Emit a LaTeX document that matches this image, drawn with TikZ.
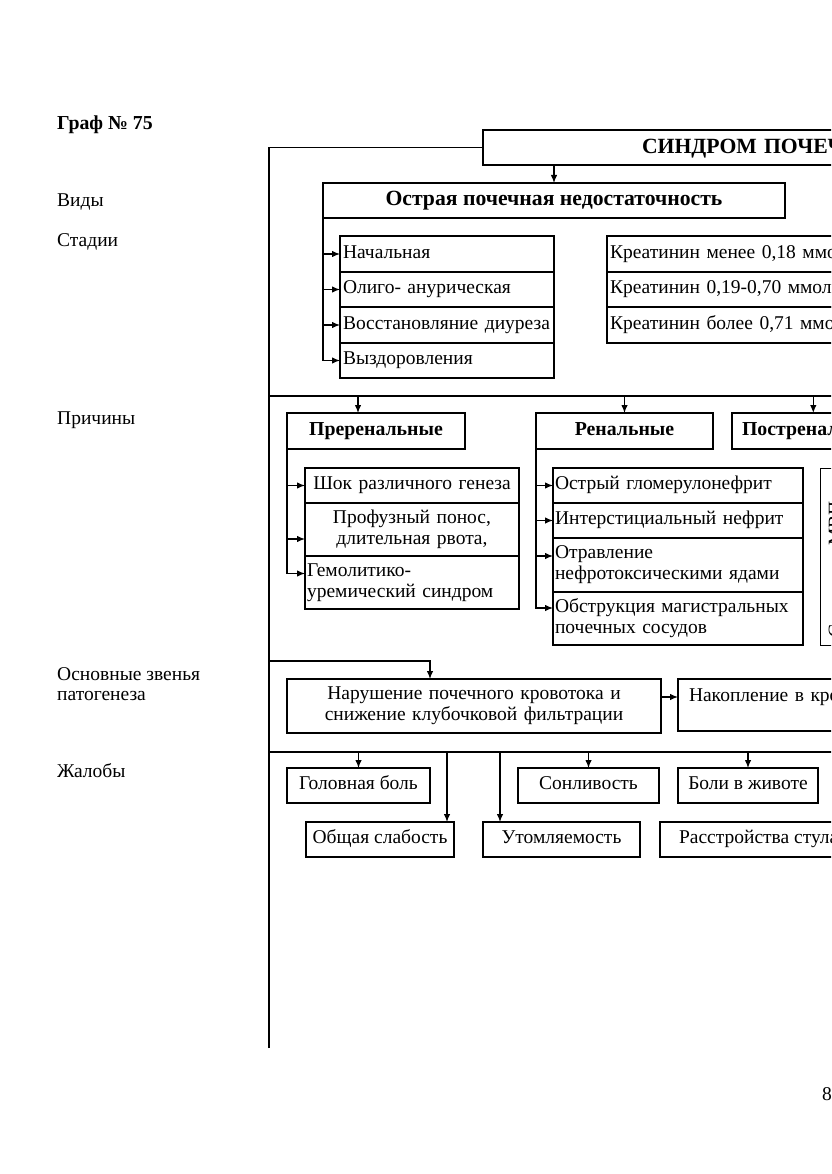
\documentclass[tikz,border=0pt]{standalone}
\usepackage{fontspec}
\setmainfont{Liberation Serif}
\usetikzlibrary{arrows.meta}
\newcommand\fn{\fontsize{19.5}{21}\selectfont}
\newcommand\fbb{\fontsize{19.8}{22}\selectfont\bfseries}
\newcommand\fbig{\fontsize{21.7}{24}\selectfont\bfseries}
\begin{document}
\begin{tikzpicture}[x=1pt,y=-1pt,
  box/.style={draw,line width=1.3pt,inner sep=0pt,outer sep=0pt,font=\fn,
    execute at begin node=\strut,execute at end node=\strut},
  arr/.style={-{Latex[length=8pt,width=6.5pt]},line width=1.2pt},
  ln/.style={line width=1.2pt},
  lab/.style={anchor=base west,inner sep=0pt,font=\fn}]
\useasboundingbox (0,0) rectangle (831,1174);
\clip (0,0) rectangle (831,1174);

% left labels
\node[lab,font=\fbb] (title) at (57,130) {Граф № 75};
\node[lab] (l1) at (57,207) {Виды};
\node[lab] (l2) at (57,247) {Стадии};
\node[lab] (l3) at (57,424) {Причины};
\node[lab] (l4) at (57,680) {Основные звенья};
\node[lab] (l5) at (57,700) {патогенеза};
\node[lab] (l6) at (57,777) {Жалобы};
\node[lab] (pg) at (822,1100) {8};

% top
\node[box,anchor=north west,minimum width=700,minimum height=35,text width=700,align=left,font=\fbig] (syn) at (483,130) {\hspace*{159pt}СИНДРОМ ПОЧЕЧНОЙ НЕДОСТАТОЧНОСТИ};
\node[box,anchor=north west,minimum width=462,minimum height=35,font=\fbig] (opn) at (323,183) {Острая почечная недостаточность};
\coordinate (ob) at (269,1048);
\draw[ln] (ob) |- (syn.west);
\draw[arr] (syn.south -| opn.north) -- (opn.north);

% stages
\node[box,anchor=north west,minimum width=214,minimum height=36,text width=208,align=left] (s1) at (340,236) {Начальная};
\node[box,anchor=north west,minimum width=214,minimum height=35,text width=208,align=left] (s2) at (340,272) {Олиго- анурическая};
\node[box,anchor=north west,minimum width=214,minimum height=36,text width=208,align=left] (s3) at (340,307) {Восстановляние диуреза};
\node[box,anchor=north west,minimum width=214,minimum height=35,text width=208,align=left] (s4) at (340,343) {Выздоровления};
\draw[arr] (opn.south west |- s1.west) -- (s1.west);
\draw[arr] (opn.south west |- s2.west) -- (s2.west);
\draw[arr] (opn.south west |- s3.west) -- (s3.west);
\draw[arr] (opn.south west) |- (s4.west);

\node[box,anchor=north west,minimum width=300,minimum height=36,text width=294,align=left] (k1) at (607,236) {Креатинин менее 0,18 ммоль/л};
\node[box,anchor=north west,minimum width=300,minimum height=35,text width=294,align=left] (k2) at (607,272) {Креатинин 0,19-0,70 ммоль/л};
\node[box,anchor=north west,minimum width=300,minimum height=36,text width=294,align=left] (k3) at (607,307) {Креатинин более 0,71 ммоль/л};

% causes
\coordinate (b1L) at (269,396);
\coordinate (b1R) at (900,396);
\draw[ln] (b1L) -- (b1R);
\node[box,anchor=north west,minimum width=178,minimum height=36,font=\fbb] (pre) at (287,413) {Преренальные};
\node[box,anchor=north west,minimum width=177,minimum height=36,font=\fbb] (ren) at (536,413) {Ренальные};
\node[box,anchor=north west,minimum height=36,inner xsep=10pt,font=\fbb] (post) at (732,413) {Постренальные};
\coordinate (preA) at ([xshift=-18pt]pre.north);
\draw[arr] (preA |- b1L) -- (preA);
\draw[arr] (ren.north |- b1L) -- (ren.north);
\draw[arr] (post.north |- b1L) -- (post.north);

\node[box,anchor=north west,minimum width=214,minimum height=35,text width=210,align=center] (p1) at (305,468) {Шок различного генеза};
\node[box,anchor=north west,minimum width=214,minimum height=53,text width=210,align=center] (p2) at (305,503) {Профузный понос,\\длительная рвота,};
\node[box,anchor=north west,minimum width=214,minimum height=53,text width=210,align=left] (p3) at (305,556) {Гемолитико-\\уремический синдром};
\coordinate (p2a) at ([yshift=-9.5pt]p2.west);
\coordinate (p3a) at ([yshift=9pt]p3.west);
\draw[arr] (pre.south west |- p1.west) -- (p1.west);
\draw[arr] (pre.south west |- p2a) -- (p2a);
\draw[arr] (pre.south west) |- (p3a);

\node[box,anchor=north west,minimum width=250,minimum height=35,text width=246,align=left] (r1) at (553,468) {Острый гломерулонефрит};
\node[box,anchor=north west,minimum width=250,minimum height=35,text width=246,align=left] (r2) at (553,503) {Интерстициальный нефрит};
\node[box,anchor=north west,minimum width=250,minimum height=54,text width=246,align=left] (r3) at (553,538) {Отравление\\нефротоксическими ядами};
\node[box,anchor=north west,minimum width=250,minimum height=53,text width=246,align=left] (r4) at (553,592) {Обструкция магистральных\\почечных сосудов};
\coordinate (r3a) at ([yshift=9pt]r3.west);
\coordinate (r4a) at ([yshift=10.5pt]r4.west);
\draw[arr] (ren.south west |- r1.west) -- (r1.west);
\draw[arr] (ren.south west |- r2.west) -- (r2.west);
\draw[arr] (ren.south west |- r3a) -- (r3a);
\draw[arr] (ren.south west) |- (r4a);

\node[draw,line width=1.3pt,inner sep=0pt,anchor=north west,minimum width=100,minimum height=177] (ps) at (820,468) {};
\node[inner sep=0pt,font=\fn,rotate=90,anchor=north] (pst) at ([xshift=8.5pt,yshift=-12.5pt]ps.west) {Стриктура МВП};

% pathogenesis
\coordinate (b2L) at (269,661);
\node[box,anchor=north west,minimum width=374,minimum height=54,text width=370,align=center] (pat1) at (287,679) {Нарушение почечного кровотока и\\снижение клубочковой фильтрации};
\node[box,anchor=north west,minimum width=380,minimum height=52,text width=358,align=left] (pat2) at (678,679) {\raisebox{-4pt}{Накопление в крови азотистых шлаков}\\\mbox{}};
\coordinate (patA) at ([xshift=-44pt]pat1.north);
\coordinate (patB) at ([yshift=9pt]pat1.east);
\draw[arr] (b2L) -| (patA);
\draw[arr] (patB) -- (patB -| pat2.west);

% complaints
\coordinate (b3L) at (269,752);
\coordinate (b3R) at (900,752);
\draw[ln] (b3L) -- (b3R);
\node[box,anchor=north west,minimum width=143,minimum height=35] (c1) at (287,768) {Головная боль};
\node[box,anchor=north west,minimum width=148,minimum height=35] (c2) at (306,822) {Общая слабость};
\node[box,anchor=north west,minimum width=157,minimum height=35] (c3) at (483,822) {Утомляемость};
\node[box,anchor=north west,minimum width=141,minimum height=35] (c4) at (518,768) {Сонливость};
\node[box,anchor=north west,minimum width=140,minimum height=35] (c5) at (678,768) {Боли в животе};
\node[box,anchor=north west,minimum height=35,inner xsep=19pt] (c6) at (660,822) {Расстройства стула};
\coordinate (c2a) at ([xshift=-7pt]c2.north east);
\coordinate (c3a) at ([xshift=17pt]c3.north west);
\draw[arr] (c1.north |- b3L) -- (c1.north);
\draw[arr] (c2a |- b3L) -- (c2a);
\draw[arr] (c3a |- b3L) -- (c3a);
\draw[arr] (c4.north |- b3L) -- (c4.north);
\draw[arr] (c5.north |- b3L) -- (c5.north);
\end{tikzpicture}
\end{document}
